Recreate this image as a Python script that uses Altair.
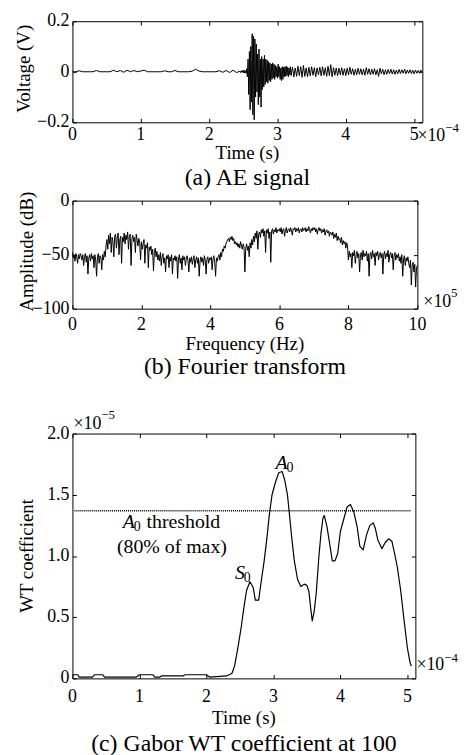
import altair as alt
import pandas as pd

FONT = "Liberation Serif"

# ---------------- (a) AE signal: time in 1e-4 s, voltage in V ----------------
A_QUIET_T0, A_QUIET_DT = 0.0, 0.05
A_QUIET_V = [0, 0, 0.004, 0, 0, 0, 0, 0.005, 0, 0,
             0, 0, 0.006, 0, 0.005, -0.002, 0.006, 0, 0.005, 0,
             0.003, 0.006, 0, 0, 0, 0, 0, 0.004, 0, 0,
             0.005, 0, 0, 0, 0, 0.002, 0.01, 0.003, 0, 0,
             0, 0, 0, 0.004, -0.002, 0.005, -0.003, 0.006, -0.003]
A_BURST_T0, A_BURST_DT = 2.45, 0.01
A_BURST_V = [0.002, -0.003, 0.004, -0.002, 0.005, -0.004, 0.006, -0.005, 0.004, -0.006,
             0.012, -0.02, 0.05, -0.09, 0.08, -0.15, 0.10, -0.12, 0.15, -0.17,
             0.14, -0.19, 0.13, -0.10, 0.11, -0.08, 0.07, -0.13, 0.09, -0.10,
             0.05, -0.14, 0.06, -0.07, 0.05, -0.06, 0.065, -0.05, 0.05, -0.04,
             0.045, -0.045, 0.04, -0.035, 0.035, -0.04, 0.03, -0.03, 0.035, -0.025,
             0.03, -0.03, 0.025, -0.02, 0.02, -0.025, 0.03, -0.02, 0.02, -0.03,
             0.015, -0.035, 0.02, -0.03, 0.018, -0.02, 0.02, -0.018, 0.022, -0.015,
             0.018, -0.02, 0.015, -0.012, 0.02, -0.015]
A_TAIL_T0, A_TAIL_DT = 3.22, 0.02
A_TAIL_V = [0.018, -0.02, 0.015, -0.018, 0.022, -0.015, 0.02, -0.022, 0.025, -0.018,
            0.015, -0.02, 0.018, -0.016, 0.02, -0.014, 0.016, -0.02, 0.015, -0.012,
            0.018, -0.016, 0.02, -0.014, 0.016, -0.018, 0.022, -0.015, 0.028, -0.02,
            0.016, -0.014, 0.015, -0.016, 0.014, -0.012, 0.016, -0.014, 0.012, -0.015,
            0.014, -0.012, 0.018, -0.01, 0.012, -0.014, 0.01, -0.012, 0.014, -0.01,
            0.012, -0.012, 0.01, -0.014, 0.016, -0.01, 0.012, -0.012, 0.01, -0.01,
            0.012, -0.012, 0.008, -0.018, 0.014, -0.008, 0.01, -0.012, 0.008, -0.01,
            0.009, -0.008, 0.01, -0.009, 0.008, -0.01, 0.007, -0.008, 0.009, -0.007,
            0.008, -0.006, 0.01, -0.008, 0.007, -0.006, 0.008, -0.007, 0.006, -0.008,
            0.007, -0.006, 0.005, -0.006, 0.006, -0.004]
A_XDOM = [0, 5.12]
A_YDOM = [-0.2, 0.2]
A_XTICKS = [0, 1, 2, 3, 4, 5]
A_XLABELS = ["0", "1", "2", "3", "4", "5"]
A_YTICKS = [-0.2, 0, 0.2]
A_YLABELS = ["\u22120.2", "0", "0.2"]

# ---------------- (b) Fourier transform: frequency in 1e5 Hz, amplitude in dB ----------------
B_F0, B_DF = 0.0, 0.025
B_DB = [-48, -53, -50, -56, -49, -52, -58, -50, -54, -49,
        -51, -55, -50, -60, -52, -49, -57, -51, -68, -53,
        -50, -56, -49, -54, -51, -62, -50, -55, -70, -52,
        -49, -58, -51, -53, -64, -50, -55, -47, -52, -42,
        -36, -45, -32, -40, -30, -48, -34, -38, -52, -33,
        -31, -44, -35, -30, -50, -36, -33, -58, -34, -38,
        -30, -40, -32, -36, -29, -45, -33, -31, -60, -35,
        -32, -38, -34, -48, -31, -36, -42, -35, -39, -55,
        -38, -45, -40, -36, -58, -41, -44, -39, -62, -43,
        -46, -42, -50, -45, -65, -48, -44, -52, -47, -55,
        -50, -56, -48, -60, -52, -49, -58, -53, -66, -51,
        -54, -50, -62, -52, -56, -50, -68, -53, -55, -51,
        -56, -52, -72, -54, -50, -58, -53, -64, -51, -55,
        -52, -60, -54, -51, -56, -66, -53, -57, -52, -59,
        -54, -51, -62, -55, -52, -58, -53, -70, -56, -52,
        -57, -53, -60, -51, -55, -68, -54, -52, -58, -53,
        -55, -52, -64, -54, -51, -57, -70, -53, -56, -52,
        -50, -55, -48, -52, -45, -47, -42, -44, -40, -38,
        -36, -35, -38, -34, -36, -33, -37, -35, -40, -38,
        -41, -39, -43, -40, -44, -38, -42, -45, -40, -43,
        -66, -44, -40, -46, -42, -52, -39, -44, -36, -41,
        -33, -38, -30, -35, -28, -45, -31, -29, -34, -27,
        -30, -26, -33, -28, -48, -27, -30, -26, -35, -29,
        -57, -28, -26, -31, -27, -29, -25, -30, -27, -28,
        -26, -29, -25, -31, -27, -26, -33, -28, -25, -30,
        -27, -26, -29, -25, -28, -32, -26, -27, -25, -29,
        -26, -28, -25, -30, -27, -26, -29, -25, -28, -27,
        -25, -29, -26, -28, -24, -27, -30, -26, -28, -25,
        -27, -25, -29, -26, -31, -27, -25, -28, -26, -30,
        -27, -29, -26, -32, -28, -27, -30, -28, -33, -29,
        -30, -32, -29, -35, -31, -34, -30, -37, -33, -36,
        -35, -39, -34, -41, -37, -40, -38, -44, -39, -42,
        -55, -47, -52, -49, -62, -48, -51, -46, -58, -50,
        -47, -53, -49, -66, -50, -48, -55, -46, -52, -49,
        -51, -47, -56, -49, -70, -50, -48, -54, -46, -52,
        -49, -60, -48, -51, -47, -55, -50, -48, -53, -49,
        -68, -50, -47, -54, -49, -52, -46, -57, -50, -48,
        -53, -49, -64, -51, -48, -55, -50, -53, -49, -56,
        -52, -58, -50, -70, -54, -51, -60, -53, -56, -52,
        -58, -62, -55, -78, -60, -57, -66, -59, -80, -62,
        -60]
B_XDOM = [0, 10]
B_YDOM = [-100, 0]
B_XTICKS = [0, 2, 4, 6, 8, 10]
B_XLABELS = ["0", "2", "4", "6", "8", "10"]
B_YTICKS = [-100, -50, 0]
B_YLABELS = ["\u2212100", "\u221250", "0"]

# ---------------- (c) Gabor WT coefficient: time in 1e-4 s, value in 1e-5 ----------------
C_T = [0.00, 0.08, 0.10, 0.30, 0.33, 0.45, 0.48, 0.70, 0.95, 1.00,
       1.20, 1.23, 1.30, 1.33, 1.65, 1.68, 2.00, 2.05, 2.30, 2.38,
       2.42, 2.47, 2.52, 2.56, 2.60, 2.65, 2.70, 2.73, 2.78, 2.82,
       2.86, 2.90, 2.94, 2.98, 3.03, 3.08, 3.13, 3.17, 3.21, 3.24,
       3.27, 3.31, 3.36, 3.41, 3.46, 3.50, 3.53, 3.56, 3.58, 3.61,
       3.64, 3.68, 3.71, 3.74, 3.76, 3.80, 3.84, 3.88, 3.92, 3.96,
       4.00, 4.05, 4.10, 4.15, 4.20, 4.25, 4.29, 4.34, 4.39, 4.44,
       4.49, 4.52, 4.56, 4.62, 4.67, 4.72, 4.77, 4.81, 4.85, 4.90,
       4.95, 5.00, 5.04, 5.06]
C_V = [0.03, 0.03, 0.01, 0.01, 0.03, 0.03, 0.01, 0.01, 0.01, 0.03,
       0.03, 0.01, 0.01, 0.02, 0.02, 0.03, 0.03, 0.01, 0.02, 0.04,
       0.10, 0.25, 0.42, 0.58, 0.72, 0.79, 0.74, 0.64, 0.64, 0.80,
       0.95, 1.13, 1.34, 1.50, 1.60, 1.68, 1.69, 1.62, 1.50, 1.34,
       1.17, 0.97, 0.81, 0.75, 0.77, 0.76, 0.71, 0.56, 0.47, 0.55,
       0.70, 1.00, 1.18, 1.31, 1.33, 1.24, 1.10, 0.96, 0.96, 1.02,
       1.20, 1.30, 1.40, 1.42, 1.36, 1.24, 1.08, 1.05, 1.17, 1.25,
       1.27, 1.23, 1.13, 1.06, 1.11, 1.14, 1.12, 1.02, 0.91, 0.72,
       0.48, 0.25, 0.13, 0.10]
C_XDOM = [0, 5.12]
C_YDOM = [0, 2.0]
C_XTICKS = [0, 1, 2, 3, 4, 5]
C_XLABELS = ["0", "1", "2", "3", "4", "5"]
C_YTICKS = [0, 0.5, 1.0, 1.5, 2.0]
C_YLABELS = ["0", "0.5", "1.0", "1.5", "2.0"]
C_THRESHOLD = 1.37
C_THRESHOLD_SPAN = [0.03, 5.06]
C_PEAK_NOTE = [3.12, 1.76]
C_THR_NOTE = [0.84, 1.28]
C_PCT_NOTE = [1.485, 1.07]
C_S0_NOTE = [2.50, 0.86]


def grid(t0, dt, vals):
    return [round(t0 + i * dt, 4) for i in range(len(vals))]


df_a = pd.DataFrame({
    "x": grid(A_QUIET_T0, A_QUIET_DT, A_QUIET_V) + grid(A_BURST_T0, A_BURST_DT, A_BURST_V)
         + grid(A_TAIL_T0, A_TAIL_DT, A_TAIL_V),
    "y": A_QUIET_V + A_BURST_V + A_TAIL_V,
})
df_b = pd.DataFrame({"x": grid(B_F0, B_DF, B_DB), "y": B_DB})
df_c = pd.DataFrame({"x": C_T, "y": C_V})
ONE = pd.DataFrame({"k": [0]})

TICK = 4
LBL = 18      # tick label size
TTL = 19      # axis title size
CAP = 24      # caption size


def tick_axis(orient, values):
    return alt.Axis(orient=orient, values=values, offset=-TICK, tickSize=TICK, tickColor="black",
                    tickWidth=1, domain=False, grid=False, labels=False, title=None)


def spacer(x, y):
    return alt.Chart(ONE).mark_rule(color="white", strokeWidth=1).encode(
        x=alt.value(x), x2=alt.value(x + 1), y=alt.value(y), y2=alt.value(y))


def label(text, x, y, size, align="left", style="normal", angle=0):
    return alt.Chart(ONE).mark_text(text=text, font=FONT, fontSize=size, fontStyle=style,
                                    align=align, baseline="middle", color="black",
                                    angle=angle).encode(x=alt.value(x), y=alt.value(y))


def note(text, t, v, size=20, style="normal", align="center", dx=0, dy=0):
    return alt.Chart(ONE).mark_text(text=text, font=FONT, fontSize=size, fontStyle=style,
                                    align=align, baseline="middle", dx=dx, dy=dy,
                                    color="black").encode(
        x=alt.XDatum(t, type="quantitative", axis=None),
        y=alt.YDatum(v, type="quantitative", axis=None))


def panel(df, xdom, ydom, xticks, xlabels, yticks, ylabels, xtitle, ytitle, w, h,
          xlab_y, xtitle_y, ytitle_x, ytitle_y, caption, cap_y, top_sp, bot_sp, extras,
          line_w=1.0):
    xs = alt.Scale(domain=xdom, nice=False, zero=False)
    ys = alt.Scale(domain=ydom, nice=False, zero=False)
    line = alt.Chart(df).mark_line(color="black", strokeWidth=line_w, strokeJoin="round").encode(
        x=alt.X("x:Q", scale=xs, axis=tick_axis("bottom", xticks)),
        y=alt.Y("y:Q", scale=ys, axis=tick_axis("left", yticks)))
    box = alt.Chart(df).mark_line(strokeOpacity=0).encode(
        x=alt.X("x:Q", scale=xs, axis=tick_axis("top", xticks)),
        y=alt.Y("y:Q", scale=ys, axis=tick_axis("right", yticks)))
    xl = alt.Chart(pd.DataFrame({"v": xticks, "t": xlabels})).mark_text(
        font=FONT, fontSize=LBL, align="center", baseline="middle", color="black").encode(
        x=alt.X("v:Q", scale=xs, axis=None), y=alt.value(h + xlab_y), text="t:N")
    yl = alt.Chart(pd.DataFrame({"v": yticks, "t": ylabels})).mark_text(
        font=FONT, fontSize=LBL, align="right", baseline="middle", color="black").encode(
        y=alt.Y("v:Q", scale=ys, axis=None), x=alt.value(-3), text="t:N")
    layers = [line, box, xl, yl,
              label(xtitle, w / 2, h + xtitle_y, TTL, align="center"),
              label(ytitle, ytitle_x, h / 2 + ytitle_y, TTL, align="center", angle=270),
              label(caption, w / 2, h + cap_y, CAP, align="center"),
              spacer(-64, -top_sp)]
    if bot_sp:
        layers.append(spacer(-64, h + bot_sp))
    layers.extend(extras(w, h))
    return alt.layer(*layers).resolve_axis(x="independent", y="independent").properties(
        width=w, height=h)


def extras_a(w, h):
    return [label("\u00d710", w - 5, h + 14, LBL), label("\u22124", w + 23, h + 6, 13)]


def extras_b(w, h):
    return [label("\u00d710", w + 6, h - 7, LBL), label("5", w + 34, h - 16, 13)]


def extras_c(w, h):
    thr = pd.DataFrame({"x": [C_THRESHOLD_SPAN[0]], "x2": [C_THRESHOLD_SPAN[1]],
                        "y": [C_THRESHOLD]})
    rule = alt.Chart(thr).mark_rule(color="black", strokeDash=[1, 1], strokeWidth=1.6).encode(
        x=alt.X("x:Q", axis=None), x2="x2:Q", y=alt.Y("y:Q", axis=None))
    return [
        rule,
        label("\u00d710", 1, -10, LBL), label("\u22125", 29, -19, 13),
        label("\u00d710", w + 1, h - 13, LBL), label("\u22124", w + 29, h - 21, 13),
        note("A", C_PEAK_NOTE[0], C_PEAK_NOTE[1], style="italic"),
        note("0", C_PEAK_NOTE[0], C_PEAK_NOTE[1], size=14, align="left", dx=5, dy=5),
        note("A", C_THR_NOTE[0], C_THR_NOTE[1], style="italic"),
        note("0", C_THR_NOTE[0], C_THR_NOTE[1], size=14, align="left", dx=5, dy=5),
        note("threshold", C_THR_NOTE[0], C_THR_NOTE[1], align="left", dx=18),
        note("(80% of max)", C_PCT_NOTE[0], C_PCT_NOTE[1]),
        note("S", C_S0_NOTE[0], C_S0_NOTE[1], style="italic"),
        note("0", C_S0_NOTE[0], C_S0_NOTE[1], size=14, align="left", dx=4, dy=5),
    ]


pa = panel(df_a, A_XDOM, A_YDOM, A_XTICKS, A_XLABELS, A_YTICKS, A_YLABELS,
           "Time (s)", "Voltage (V)", 353, 102,
           13, 31, -49, -3, "(a) AE signal", 56, 9, 68, extras_a)
pb = panel(df_b, B_XDOM, B_YDOM, B_XTICKS, B_XLABELS, B_YTICKS, B_YLABELS,
           "Frequency (Hz)", "Amplitude (dB)", 348, 109,
           17, 36, -46, -3, "(b) Fourier transform", 59, 9, 71, extras_b)
pc = panel(df_c, C_XDOM, C_YDOM, C_XTICKS, C_XLABELS, C_YTICKS, C_YLABELS,
           "Time (s)", "WT coefficient", 346, 247,
           19, 40, -46, 0, "(c) Gabor WT coefficient at 100", 66, 53, None, extras_c,
           line_w=1.2)

chart = alt.vconcat(pa, pb, pc, spacing=0).properties(
    padding={"left": 0, "top": 0, "right": 0, "bottom": 0}
).configure(font=FONT).configure_view(stroke="black", strokeWidth=1)

chart.save("out.html", embed_options={"renderer": "svg", "actions": False})
